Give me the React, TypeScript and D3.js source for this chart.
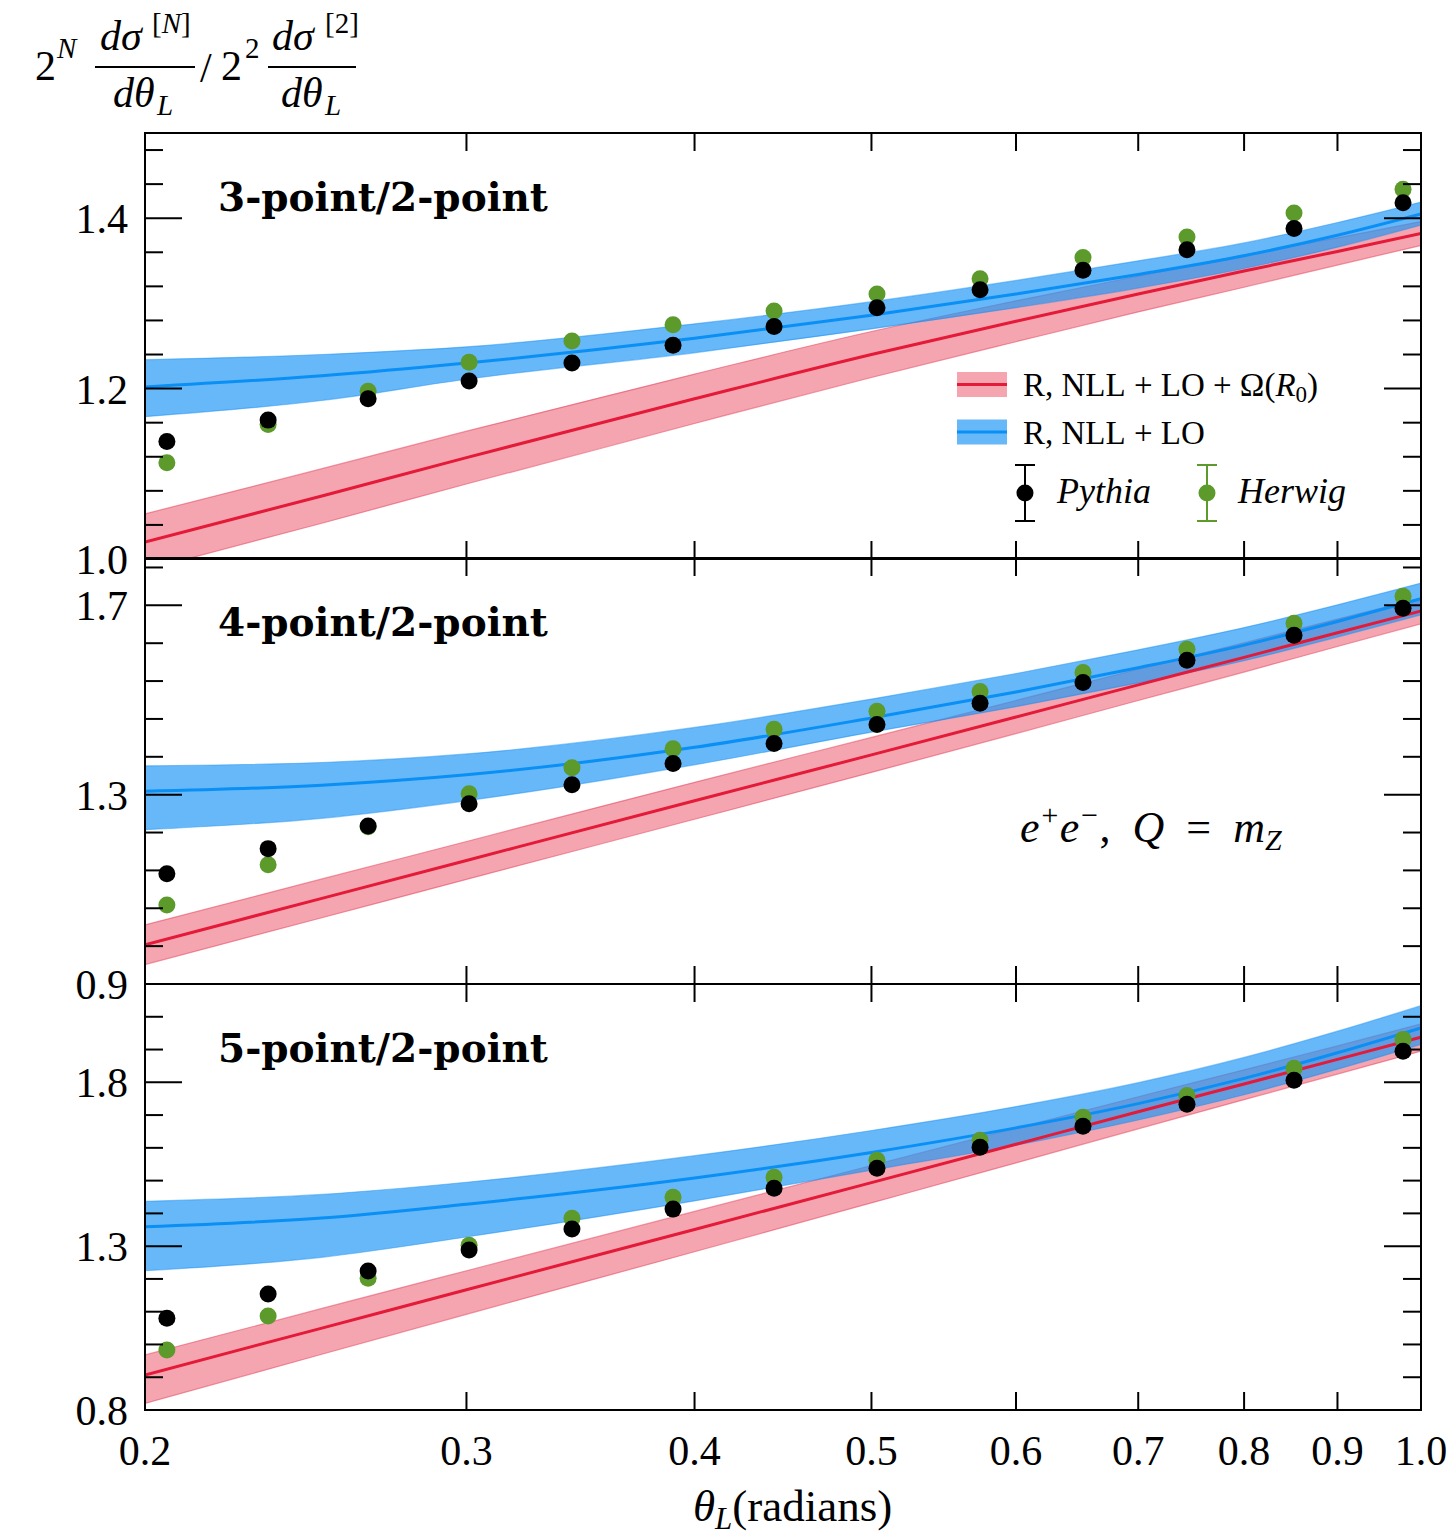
import React from "react";
import * as d3 from "d3";

// ---------- data ----------
const thetaPts = [0.2056, 0.2336, 0.265, 0.301, 0.3427, 0.3893, 0.4422, 0.5035, 0.5734, 0.6529, 0.7444, 0.852, 0.9776];

const pythia3 = [1.138, 1.163, 1.188, 1.209, 1.23, 1.251, 1.273, 1.295, 1.316, 1.339, 1.363, 1.388, 1.418];
const herwig3 = [1.113, 1.158, 1.197, 1.231, 1.256, 1.275, 1.291, 1.311, 1.329, 1.354, 1.378, 1.406, 1.434];
const pythia4 = [1.133, 1.186, 1.234, 1.281, 1.321, 1.366, 1.408, 1.448, 1.493, 1.537, 1.584, 1.637, 1.694];
const herwig4 = [1.067, 1.152, 1.232, 1.302, 1.357, 1.397, 1.438, 1.476, 1.518, 1.558, 1.607, 1.662, 1.719];
const pythia5 = [1.08, 1.154, 1.224, 1.288, 1.352, 1.413, 1.477, 1.538, 1.602, 1.666, 1.733, 1.806, 1.895];
const herwig5 = [0.983, 1.087, 1.202, 1.303, 1.385, 1.449, 1.51, 1.562, 1.623, 1.693, 1.76, 1.843, 1.931];

const bandTheta = [0.2, 0.25, 0.3, 0.4, 0.5, 0.6, 0.7, 0.8, 0.9, 1.0];

const red3Mid = [1.02, 1.074, 1.119, 1.188, 1.24, 1.279, 1.311, 1.338, 1.361, 1.382];
const red3Hi = [1.053, 1.106, 1.15, 1.217, 1.267, 1.303, 1.332, 1.357, 1.377, 1.396];
const red3Lo = [0.987, 1.042, 1.088, 1.159, 1.213, 1.255, 1.29, 1.319, 1.345, 1.368];
const blue3Mid = [1.202, 1.215, 1.23, 1.259, 1.286, 1.311, 1.334, 1.356, 1.38, 1.405];
const blue3Hi = [1.234, 1.24, 1.249, 1.276, 1.302, 1.327, 1.35, 1.371, 1.395, 1.419];
const blue3Lo = [1.167, 1.186, 1.211, 1.242, 1.27, 1.295, 1.318, 1.341, 1.366, 1.392];

const red4Mid = [0.983, 1.081, 1.161, 1.287, 1.384, 1.464, 1.532, 1.59, 1.642, 1.688];
const red4Hi = [1.025, 1.122, 1.201, 1.326, 1.421, 1.499, 1.565, 1.621, 1.671, 1.715];
const red4Lo = [0.941, 1.04, 1.121, 1.248, 1.347, 1.429, 1.499, 1.559, 1.613, 1.661];
const blue4Mid = [1.307, 1.32, 1.342, 1.4, 1.462, 1.517, 1.568, 1.616, 1.666, 1.714];
const blue4Hi = [1.361, 1.368, 1.386, 1.442, 1.502, 1.556, 1.606, 1.653, 1.701, 1.747];
const blue4Lo = [1.226, 1.25, 1.287, 1.363, 1.432, 1.486, 1.536, 1.583, 1.633, 1.68];

const red5Mid = [0.907, 1.05, 1.167, 1.351, 1.494, 1.611, 1.71, 1.795, 1.87, 1.938];
const red5Hi = [0.968, 1.11, 1.225, 1.406, 1.546, 1.66, 1.756, 1.838, 1.911, 1.978];
const red5Lo = [0.82, 0.97, 1.092, 1.283, 1.432, 1.554, 1.658, 1.747, 1.825, 1.895];
const blue5Mid = [1.359, 1.386, 1.428, 1.508, 1.586, 1.661, 1.735, 1.812, 1.89, 1.966];
const blue5Hi = [1.437, 1.458, 1.495, 1.576, 1.653, 1.726, 1.799, 1.876, 1.956, 2.034];
const blue5Lo = [1.225, 1.266, 1.328, 1.438, 1.532, 1.608, 1.685, 1.762, 1.84, 1.916];

const xTickVals = [0.2, 0.3, 0.4, 0.5, 0.6, 0.7, 0.8, 0.9, 1.0];
const xTickLabels = ["0.2", "0.3", "0.4", "0.5", "0.6", "0.7", "0.8", "0.9", "1.0"];

const panelTitles = ["3-point/2-point", "4-point/2-point", "5-point/2-point"];
const panelDomains = [[1.0, 1.5], [0.9, 1.8], [0.8, 2.1]];
const panelMajor = [[1.0, 1.2, 1.4], [0.9, 1.3, 1.7], [0.8, 1.3, 1.8]];
const panelMajorLabels = [["1.0", "1.2", "1.4"], ["0.9", "1.3", "1.7"], ["0.8", "1.3", "1.8"]];
const panelMinorStep = [0.04, 0.08, 0.1];

const EN = "\u2002";
const TH = "\u2005";
const legendLabels = [`R, NLL${TH}+${TH}LO${TH}+${TH}Ω(`, `R, NLL${TH}+${TH}LO`];

// ---------- styling ----------
const W = 1451;
const H = 1537;
const L = 145;
const R = 1421;
const panelTops = [133, 558, 984];
const panelH = 426;
const RED = "#e41a38";
const RED_FILL = "rgba(238,110,128,0.62)";
const BLUE = "#0a8ff5";
const BLUE_FILL = "rgba(30,150,245,0.68)";
const GREEN = "#5b9a2b";
const SERIF = "'Liberation Serif', 'Times New Roman', serif";

const x = d3.scaleLog().domain([0.2, 1.0]).range([L, R]);

const panels = [
  { pythia: pythia3, herwig: herwig3, red: [red3Lo, red3Mid, red3Hi], blue: [blue3Lo, blue3Mid, blue3Hi] },
  { pythia: pythia4, herwig: herwig4, red: [red4Lo, red4Mid, red4Hi], blue: [blue4Lo, blue4Mid, blue4Hi] },
  { pythia: pythia5, herwig: herwig5, red: [red5Lo, red5Mid, red5Hi], blue: [blue5Lo, blue5Mid, blue5Hi] },
];

function Panel({ i }: { i: number }) {
  const top = panelTops[i];
  const bottom = top + panelH;
  const [d0, d1] = panelDomains[i];
  const y = d3.scaleLinear().domain([d0, d1]).range([bottom, top]);
  const p = panels[i];
  const idx = d3.range(bandTheta.length);
  const area = (lo: number[], hi: number[]) =>
    d3
      .area<number>()
      .x((k) => x(bandTheta[k]))
      .y0((k) => y(lo[k]))
      .y1((k) => y(hi[k]))
      .curve(d3.curveMonotoneX)(idx) || "";
  const line = (mid: number[]) =>
    d3
      .line<number>()
      .x((k) => x(bandTheta[k]))
      .y((k) => y(mid[k]))
      .curve(d3.curveMonotoneX)(idx) || "";
  const minors: number[] = [];
  const step = panelMinorStep[i];
  for (let v = d0; v <= d1 + 1e-9; v += step) {
    const vv = Math.round(v * 1000) / 1000;
    if (!panelMajor[i].some((m) => Math.abs(m - vv) < 1e-6)) minors.push(vv);
  }
  const clipId = `clip${i}`;
  return (
    <g>
      <defs>
        <clipPath id={clipId}>
          <rect x={L} y={top} width={R - L} height={panelH} />
        </clipPath>
      </defs>
      <g clipPath={`url(#${clipId})`}>
        <path d={area(p.red[0], p.red[2])} fill={RED_FILL} stroke="rgba(228,60,85,0.5)" strokeWidth={1.2} />
        <path d={area(p.blue[0], p.blue[2])} fill={BLUE_FILL} stroke="rgba(20,140,245,0.45)" strokeWidth={1.2} />
        <path d={line(p.red[1])} fill="none" stroke={RED} strokeWidth={3} />
        <path d={line(p.blue[1])} fill="none" stroke={BLUE} strokeWidth={3} />
        {thetaPts.map((t, k) => (
          <circle key={"h" + k} cx={x(t)} cy={y(p.herwig[k])} r={8.5} fill={GREEN} />
        ))}
        {thetaPts.map((t, k) => (
          <circle key={"p" + k} cx={x(t)} cy={y(p.pythia[k])} r={8.5} fill="#000" />
        ))}
      </g>
      <rect x={L} y={top} width={R - L} height={panelH} fill="none" stroke="#000" strokeWidth={2} />
      {panelMajor[i].map((v, k) => (
        <g key={"ym" + k}>
          <line x1={L} x2={L + 37} y1={y(v)} y2={y(v)} stroke="#000" strokeWidth={2} />
          <line x1={R - 37} x2={R} y1={y(v)} y2={y(v)} stroke="#000" strokeWidth={2} />
          <text x={128} y={y(v)} dy="0.36em" textAnchor="end" fontSize={42} fontFamily={SERIF}>
            {panelMajorLabels[i][k]}
          </text>
        </g>
      ))}
      {minors.map((v, k) => (
        <g key={"yn" + k}>
          <line x1={L} x2={L + 18} y1={y(v)} y2={y(v)} stroke="#000" strokeWidth={2} />
          <line x1={R - 18} x2={R} y1={y(v)} y2={y(v)} stroke="#000" strokeWidth={2} />
        </g>
      ))}
      {xTickVals.map((v, k) => (
        <g key={"xt" + k}>
          <line x1={x(v)} x2={x(v)} y1={top} y2={top + 18} stroke="#000" strokeWidth={2} />
          <line x1={x(v)} x2={x(v)} y1={bottom - 18} y2={bottom} stroke="#000" strokeWidth={2} />
        </g>
      ))}
      <text x={218} y={top + 78} fontSize={39} fontWeight="bold" fontFamily="'DejaVu Serif', serif">
        {panelTitles[i]}
      </text>
    </g>
  );
}

function Legend() {
  const rows = [
    { y: 384.5, fill: RED_FILL, stroke: RED },
    { y: 432, fill: BLUE_FILL, stroke: BLUE },
  ];
  return (
    <g>
      {rows.map((r, k) => (
        <g key={k}>
          <rect x={957} y={r.y - 12.5} width={50} height={25} fill={r.fill} />
          <line x1={957} x2={1007} y1={r.y} y2={r.y} stroke={r.stroke} strokeWidth={3} />
        </g>
      ))}
      <text x={1023} y={396} fontSize={33} fontFamily={SERIF}>
        {legendLabels[0]}
        <tspan fontStyle="italic">R</tspan>
        <tspan fontSize={23} dy={6}>0</tspan>
        <tspan dy={-6}>)</tspan>
      </text>
      <text x={1023} y={444} fontSize={33} fontFamily={SERIF}>
        {legendLabels[1]}
      </text>
      {[
        { cx: 1025, color: "#000", label: "Pythia", tx: 1057 },
        { cx: 1207, color: GREEN, label: "Herwig", tx: 1238 },
      ].map((m, k) => (
        <g key={k}>
          <line x1={m.cx} x2={m.cx} y1={465} y2={521} stroke={m.color} strokeWidth={2} />
          <line x1={m.cx - 10} x2={m.cx + 10} y1={465} y2={465} stroke={m.color} strokeWidth={2} />
          <line x1={m.cx - 10} x2={m.cx + 10} y1={521} y2={521} stroke={m.color} strokeWidth={2} />
          <circle cx={m.cx} cy={493} r={8.5} fill={m.color} />
          <text x={m.tx} y={503} fontSize={36} fontStyle="italic" fontFamily={SERIF}>
            {m.label}
          </text>
        </g>
      ))}
    </g>
  );
}

function YLabel() {
  const big = 42;
  const small = 29;
  const it = { fontStyle: "italic" as const };
  return (
    <g fontFamily={SERIF} fill="#000">
      <text x={35} y={80} fontSize={big}>2</text>
      <text x={57} y={58} fontSize={small} {...it}>N</text>
      <text x={100} y={50} fontSize={big} {...it}>dσ</text>
      <text x={152} y={33} fontSize={small}>[<tspan {...it}>N</tspan>]</text>
      <line x1={95} x2={195} y1={67} y2={67} stroke="#000" strokeWidth={1.8} />
      <text x={113} y={107} fontSize={big} {...it}>dθ</text>
      <text x={157} y={115} fontSize={small} {...it}>L</text>
      <text x={200} y={82} fontSize={big}>/</text>
      <text x={221} y={80} fontSize={big}>2</text>
      <text x={245} y={58} fontSize={small}>2</text>
      <text x={272} y={50} fontSize={big} {...it}>dσ</text>
      <text x={325} y={33} fontSize={small}>[2]</text>
      <line x1={268} x2={356} y1={67} y2={67} stroke="#000" strokeWidth={1.8} />
      <text x={281} y={107} fontSize={big} {...it}>dθ</text>
      <text x={325} y={115} fontSize={small} {...it}>L</text>
    </g>
  );
}

export default function App() {
  return (
    <svg
      width={W}
      height={H}
      viewBox={`0 0 ${W} ${H}`}
      style={{ position: "absolute", left: 0, top: 0, background: "#fff" }}
    >
      <rect width={W} height={H} fill="#fff" />
      <YLabel />
      {[0, 1, 2].map((i) => (
        <Panel key={i} i={i} />
      ))}
      <Legend />
      <text x={1020} y={842} fontSize={44} fontFamily={SERIF} fontStyle="italic">
        e<tspan fontSize={30} dy={-17}>+</tspan>
        <tspan dy={17}>e</tspan>
        <tspan fontSize={30} dy={-17}>−</tspan>
        <tspan dy={17} fontStyle="normal">{`,${EN}`}</tspan>Q<tspan fontStyle="normal">{`${EN}=${EN}`}</tspan>m
        <tspan fontSize={30} dy={8}>Z</tspan>
      </text>
      {xTickVals.map((v, k) => (
        <text key={k} x={x(v)} y={1465} textAnchor="middle" fontSize={42} fontFamily={SERIF}>
          {xTickLabels[k]}
        </text>
      ))}
      <text x={693} y={1521} fontSize={45} fontFamily={SERIF}>
        <tspan fontStyle="italic">θ</tspan>
        <tspan fontStyle="italic" fontSize={31} dy={8}>L</tspan>
        <tspan dy={-8}>(radians)</tspan>
      </text>
    </svg>
  );
}
